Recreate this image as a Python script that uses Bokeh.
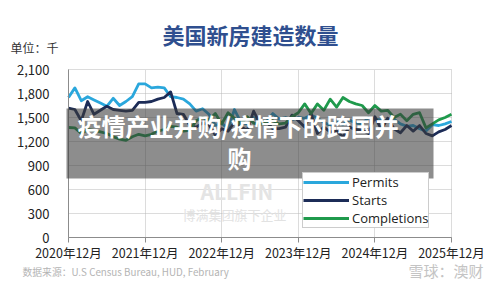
from bokeh.plotting import figure
from bokeh.models import (Range1d, FixedTicker, NumeralTickFormatter, Label, BoxAnnotation,
                          Legend, LegendItem, ColumnDataSource, LinearAxis, Grid)
from bokeh.embed import file_html
from bokeh.resources import INLINE

# ---- data (thousands of units, monthly, Dec 2020 .. Dec 2025) ----
months = list(range(61))
permits = [1750, 1870, 1710, 1760, 1720, 1680, 1640, 1740, 1650, 1700, 1760, 1920,
           1920, 1870, 1880, 1870, 1760, 1750, 1730, 1670, 1580, 1610, 1540, 1400,
           1430, 1360, 1600, 1440, 1420, 1500, 1450, 1450, 1550, 1480, 1500, 1470,
           1500, 1490, 1530, 1490, 1440, 1400, 1460, 1410, 1470, 1430, 1420, 1500,
           1480, 1470, 1460, 1480, 1420, 1390, 1400, 1360, 1330, 1410, 1400, 1420, 1450]
starts = [1617, 1600, 1460, 1700, 1540, 1590, 1640, 1600, 1590, 1580, 1590, 1690,
          1690, 1700, 1730, 1750, 1820, 1550, 1540, 1400, 1380, 1430, 1410, 1280,
          1360, 1330, 1440, 1380, 1340, 1580, 1420, 1450, 1360, 1360, 1380, 1530,
          1460, 1380, 1550, 1300, 1380, 1320, 1330, 1260, 1380, 1350, 1340, 1300,
          1510, 1350, 1490, 1360, 1310, 1400, 1330, 1400, 1300, 1270, 1320, 1350, 1400]
completions = [1375, 1370, 1300, 1350, 1340, 1320, 1300, 1260, 1230, 1215, 1260, 1290,
               1270, 1290, 1330, 1350, 1390, 1380, 1330, 1340, 1460, 1500, 1470, 1550,
               1420, 1560, 1490, 1410, 1510, 1430, 1410, 1450, 1460, 1420, 1430, 1510,
               1560, 1670, 1550, 1670, 1590, 1730, 1630, 1750, 1700, 1670, 1650, 1560,
               1650, 1580, 1590, 1500, 1540, 1460, 1540, 1560, 1370, 1420, 1470, 1500, 1540]
series_names = ["Permits", "Starts", "Completions"]
x_ticks = [0, 12, 24, 36, 48, 60]
x_tick_labels = ["2020年12月", "2021年12月", "2022年12月", "2023年12月", "2024年12月", "2025年12月"]
y_ticks = [0, 300, 600, 900, 1200, 1500, 1800, 2100]

title_text = "美国新房建造数量"
unit_text = "单位：千"
source_text = "数据来源：U.S Census Bureau, HUD, February"
watermark_text = "雪球：澳财"
banner_line1 = "疫情产业并购/疫情下的跨国并"
banner_line2 = "购"

FONT = "Noto Sans CJK SC"
colors = ["#2aa7dc", "#1c2c57", "#1f9a4c"]

# The frame covers the whole canvas; the plot area (months 0..60, values 0..2100)
# sits at pixels x 68..451, y 237..69.
PX_PER_MONTH = 383 / 60.0
PX_PER_UNIT = 168 / 2100.0
x_start = -68 / PX_PER_MONTH
x_end = (500 - 68) / PX_PER_MONTH
y_end = 237 / PX_PER_UNIT
y_start = (237 - 286) / PX_PER_UNIT

def mx(px):
    return (px - 68) / PX_PER_MONTH

def vy(py):
    return (237 - py) / PX_PER_UNIT

p = figure(width=500, height=286, output_backend="svg", toolbar_location=None,
           x_range=Range1d(x_start, x_end), y_range=Range1d(y_start, y_end),
           x_axis_type=None, y_axis_type=None,
           min_border_left=0, min_border_right=0, min_border_top=0, min_border_bottom=0,
           background_fill_color="white", border_fill_color="white")
p.outline_line_color = None
p.grid.visible = False

# grids limited to the plot area
xgrid = Grid(dimension=0, ticker=FixedTicker(ticks=x_ticks))
ygrid = Grid(dimension=1, ticker=FixedTicker(ticks=y_ticks))
if "cross_bounds" in Grid.properties():
    xgrid.cross_bounds = (0, 2100)
    ygrid.cross_bounds = (0, 60)
for g in (xgrid, ygrid):
    g.grid_line_color = "#b8b8b8"
    g.grid_line_dash = "1 1"
    g.grid_line_width = 1
    p.add_layout(g)

# axes fixed at the plot-area edges
xaxis = LinearAxis(fixed_location=0, bounds=(0, 60), ticker=FixedTicker(ticks=x_ticks),
                   major_label_overrides={t: l for t, l in zip(x_ticks, x_tick_labels)})
xaxis.minor_tick_line_color = None
xaxis.major_tick_out = 5
xaxis.major_tick_in = 0
xaxis.major_tick_line_color = "#8c8c8c"
xaxis.axis_line_color = "#8c8c8c"
xaxis.major_label_text_font = FONT
xaxis.major_label_text_font_size = "12.5px"
xaxis.major_label_text_color = "#222222"
xaxis.major_label_standoff = 0
p.add_layout(xaxis, "below")

yaxis = LinearAxis(fixed_location=0, bounds=(0, 2100), ticker=FixedTicker(ticks=y_ticks),
                   formatter=NumeralTickFormatter(format="0,0"))
yaxis.minor_tick_line_color = None
yaxis.major_tick_line_color = None
yaxis.axis_line_color = "#8c8c8c"
yaxis.major_label_text_font = FONT
yaxis.major_label_text_font_size = "13px"
yaxis.major_label_text_color = "#222222"
yaxis.major_label_standoff = 13
p.add_layout(yaxis, "left")

# watermarks (under everything)
p.add_layout(Label(x=mx(200), y=vy(190), text="ALLFIN", text_font=FONT, text_font_style="bold",
                   text_font_size="21px", text_color="#e4e4e4", text_baseline="middle"))
p.add_layout(Label(x=mx(182), y=vy(214), text="博满集团旗下企业", text_font=FONT,
                   text_font_size="13px", text_color="#e2e2e2", text_baseline="middle"))

# lines
renderers = []
for vals, c in zip([permits, starts, completions], colors):
    src = ColumnDataSource(dict(x=months, y=vals))
    r = p.line("x", "y", source=src, line_color=c, line_width=2.8, line_join="round")
    renderers.append(r)

legend = Legend(items=[LegendItem(label=n, renderers=[r]) for n, r in zip(series_names, renderers)],
                location=(302, 286 - 228), margin=0, padding=0, spacing=0,
                glyph_width=46, glyph_height=16, label_height=16, label_standoff=3,
                label_text_font="Open Sans", label_text_font_size="13px",
                label_text_color="#222222",
                border_line_color="#999999", border_line_width=1,
                background_fill_color="white", background_fill_alpha=1)
p.add_layout(legend, "center")

# titles / notes
p.add_layout(Label(x=mx(250), y=vy(33), text=title_text, text_font=FONT, text_font_style="bold",
                   text_font_size="22px", text_color="#2f4f8f", text_align="center",
                   text_baseline="middle"))
p.add_layout(Label(x=mx(10), y=vy(47), text=unit_text, text_font=FONT, text_font_size="12px",
                   text_color="#333333", text_baseline="middle"))
p.add_layout(Label(x=mx(22), y=vy(271), text=source_text, text_font=FONT, text_font_size="9.8px",
                   text_color="#b4b4b4", text_baseline="middle"))
p.add_layout(Label(x=mx(408), y=vy(270), text=watermark_text, text_font=FONT, text_font_size="15px",
                   text_color="#c4c4c4", text_baseline="middle"))

# overlay banner
p.add_layout(BoxAnnotation(left=mx(66), right=mx(433), top=vy(108), bottom=vy(178),
                           fill_color="#3a3a3a", fill_alpha=0.58, line_color=None,
                           level="overlay"))
p.add_layout(Label(x=mx(77), y=vy(125), text=banner_line1, text_font=FONT, text_font_style="bold",
                   text_font_size="24px", text_color="white", text_baseline="middle",
                   level="overlay"))
p.add_layout(Label(x=mx(239), y=vy(157), text=banner_line2, text_font=FONT, text_font_style="bold",
                   text_font_size="24px", text_color="white", text_baseline="middle",
                   text_align="center", level="overlay"))

open("out.html", "w").write(file_html(p, INLINE))
